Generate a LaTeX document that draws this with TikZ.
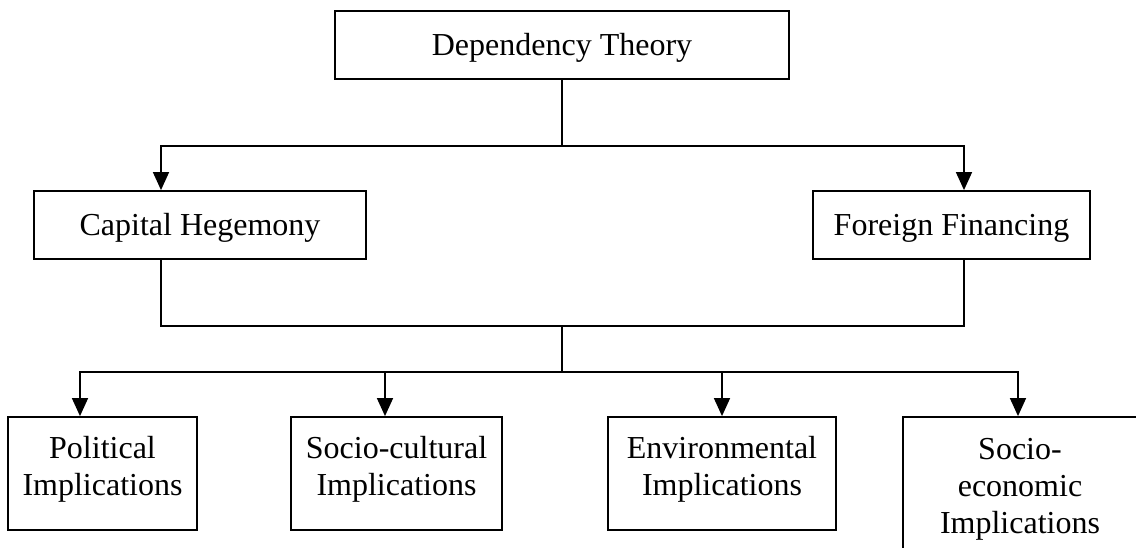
\documentclass[tikz,border=0pt]{standalone}
\usepackage{fontspec}
\setmainfont{Liberation Serif}
\usetikzlibrary{arrows.meta}
\begin{document}
\begin{tikzpicture}[x=1pt,y=-1pt,
  box/.style={draw,line width=1.8pt,rectangle,inner sep=0pt,align=center,
    font=\fontsize{32}{37}\selectfont},
  oneline/.style={text height=23pt,text depth=2pt},
  twoline/.style={text depth=15pt},
  conn/.style={line width=1.5pt},
  arr/.style={conn,-{Triangle[length=18pt,width=16pt]}}]
\useasboundingbox (0,0) rectangle (1136,548);
\clip (0,0) rectangle (1136,548);
% nodes
\node[box,oneline,minimum width=454pt,minimum height=68pt] (top) at (562,45) {Dependency Theory};
\node[box,oneline,minimum width=332pt,minimum height=68pt] (cap) at (200,225) {Capital Hegemony};
\node[box,oneline,minimum width=277pt,minimum height=68pt] (for) at (951.5,225) {Foreign Financing};
\node[box,twoline,minimum width=189pt,minimum height=113pt] (pol) at (102.5,473.5) {Political\\Implications};
\node[box,twoline,minimum width=211pt,minimum height=113pt] (soc) at (396.5,473.5) {Socio-cultural\\Implications};
\node[box,twoline,minimum width=228pt,minimum height=113pt] (env) at (722,473.5) {Environmental\\Implications};
\node[box,twoline,minimum width=234pt,minimum height=152pt] (sec) at (1020,493) {Socio-\\economic\\Implications};
% junctions
\coordinate (j1) at (562,146);
\coordinate (j2) at (562,326);
\coordinate (j3) at (562,372);
% connectors
\draw[conn] (top.south) -- (j1);
\draw[arr] (j1) -| ([xshift=-39pt]cap.north);
\draw[arr] (j1) -| ([xshift=12.5pt]for.north);
\draw[conn] ([xshift=-39pt]cap.south) |- (j2) -| ([xshift=12.5pt]for.south);
\draw[conn] (j2) -- (j3);
\draw[arr] (j3) -| ([xshift=-22.5pt]pol.north);
\draw[arr] (j3) -| ([xshift=-11.5pt]soc.north);
\draw[arr] (j3) -| (env.north);
\draw[arr] (j3) -| ([xshift=-2pt]sec.north);
\end{tikzpicture}
\end{document}
